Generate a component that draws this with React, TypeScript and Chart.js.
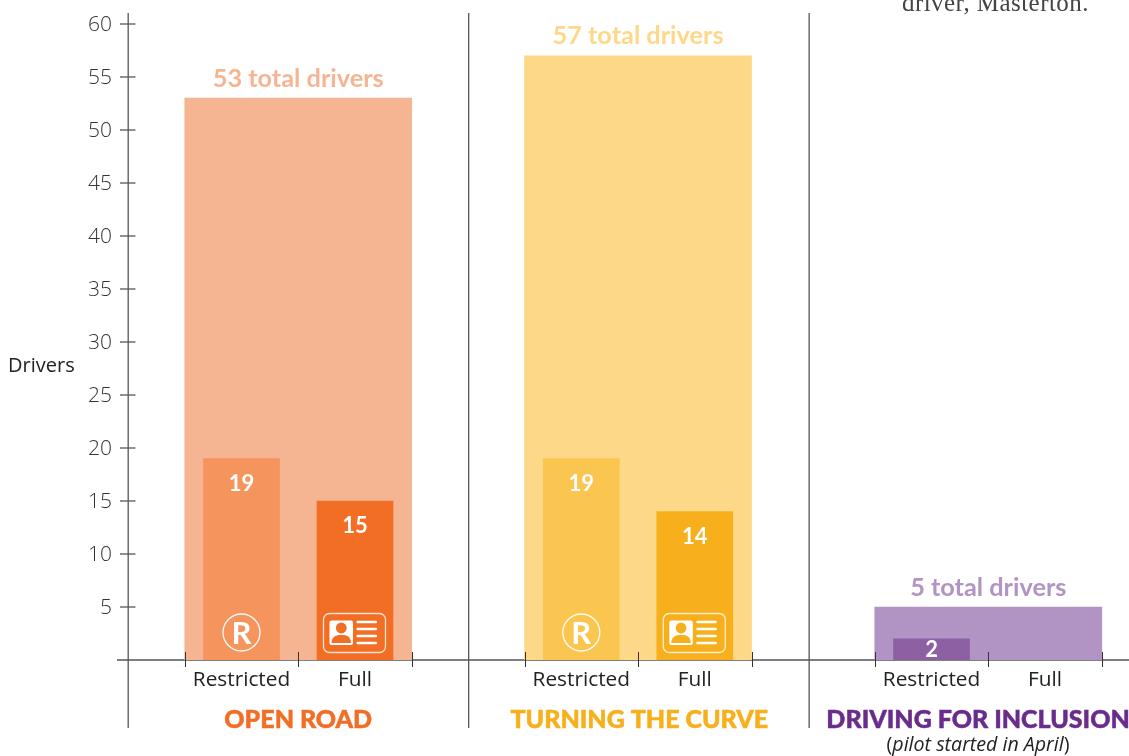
import React, { useEffect, useRef } from "react";
import { Chart, registerables } from "chart.js";

Chart.register(...registerables);

const programs = ["OPEN ROAD", "TURNING THE CURVE", "DRIVING FOR INCLUSION"];
const licenceTypes = ["Restricted", "Full"];
const totalDrivers = [53, 57, 5];
const restrictedDrivers = [19, 19, 2];
const fullDrivers: (number | null)[] = [15, 14, null];
const yTickStep = 5;
const yMax = 60;
const axisTitle = "Drivers";
const clippedCaption = "driver, Masterton.";
const pilotNote = ["(", "pilot started in April", ")"];

// layout: x axis is measured in "licence slots"
const groupStarts = [0.5, 3.494, 6.58];
const groupDividers = [0, 3, 6];
const xMax = 8.82;
const groupLabelCentres = [1.5, 4.505, 7.49];

const totalColors = ["#F6B592", "#FDD888", "#B194C3"];
const restrictedColors = ["#F5945D", "#FBC650", "#8D5FA3"];
const fullColors = ["#F26E25", "#F7B01B", "#B194C3"];
const programColors = ["#F26E25", "#F7B01B", "#6A2C8C"];

const FONT = "Lato";
const BODY = '"Open Sans"';
const LINE = "#555555";
const DARK = "#333333";

function roundRect(ctx: CanvasRenderingContext2D, x: number, y: number, w: number, h: number, r: number) {
  ctx.beginPath();
  ctx.roundRect(x, y, w, h, r);
}

function drawRBadge(ctx: CanvasRenderingContext2D, cx: number, cy: number) {
  ctx.strokeStyle = "rgba(255,255,255,0.95)";
  ctx.lineWidth = 1.3;
  ctx.beginPath();
  ctx.arc(cx, cy, 18.5, 0, Math.PI * 2);
  ctx.stroke();
  ctx.fillStyle = "#ffffff";
  ctx.font = `700 31px ${FONT}`;
  ctx.textAlign = "center";
  ctx.textBaseline = "middle";
  ctx.fillText("R", cx, cy + 1);
}

function drawCard(ctx: CanvasRenderingContext2D, cx: number, cy: number, bar: string) {
  ctx.strokeStyle = "rgba(255,255,255,0.8)";
  ctx.lineWidth = 1.3;
  roundRect(ctx, cx - 31, cy - 19.5, 62, 39, 6);
  ctx.stroke();
  ctx.fillStyle = "#ffffff";
  roundRect(ctx, cx - 25, cy - 12.5, 23.5, 24.5, 2);
  ctx.fill();
  ctx.fillStyle = bar;
  ctx.beginPath();
  ctx.arc(cx - 13.2, cy - 5, 5.4, 0, Math.PI * 2);
  ctx.fill();
  ctx.beginPath();
  ctx.moveTo(cx - 23, cy + 10);
  ctx.quadraticCurveTo(cx - 23, cy + 3, cx - 16, cy + 2);
  ctx.lineTo(cx - 10, cy + 2);
  ctx.quadraticCurveTo(cx - 3.5, cy + 3, cx - 3.5, cy + 10);
  ctx.closePath();
  ctx.fill();
  ctx.fillStyle = "#ffffff";
  for (const dy of [-11, -4, 3, 10]) {
    roundRect(ctx, cx + 2, cy + dy - 1.2, 20.5, 2.5, 1);
    ctx.fill();
  }
}

const decorationsBelow = {
  id: "decorationsBelow",
  beforeDatasetsDraw(chart: any) {
    const { ctx, scales } = chart;
    const y0 = scales.y.getPixelForValue(0);
    ctx.save();
    ctx.strokeStyle = LINE;
    ctx.lineWidth = 1.4;
    ctx.beginPath();
    ctx.moveTo(scales.x.left - 11, y0);
    ctx.lineTo(scales.x.right, y0);
    ctx.stroke();
    ctx.restore();
  },
};

const decorations = {
  id: "decorations",
  afterDatasetsDraw(chart: any) {
    const { ctx, scales } = chart;
    const { x, y } = scales;
    const y0 = y.getPixelForValue(0);
    const metaTotal = chart.getDatasetMeta(2);
    const metaR = chart.getDatasetMeta(0);
    const metaF = chart.getDatasetMeta(1);
    ctx.save();

    // group dividers and y axis line
    ctx.strokeStyle = LINE;
    ctx.lineWidth = 1.3;
    groupDividers.forEach((d) => {
      const px = x.getPixelForValue(d) + 0.2;
      ctx.beginPath();
      ctx.moveTo(px, 13);
      ctx.lineTo(px, 728);
      ctx.stroke();
    });

    // y tick marks cross the axis
    y.ticks.forEach((t: any) => {
      if (t.value === 0) return;
      const py = y.getPixelForValue(t.value);
      ctx.beginPath();
      ctx.moveTo(x.left - 8, py);
      ctx.lineTo(x.left + 7.5, py);
      ctx.stroke();
    });

    // x tick marks
    ctx.strokeStyle = DARK;
    ctx.lineWidth = 1;
    groupStarts.forEach((s) => {
      [0, 1, 2].forEach((k) => {
        const px = Math.round(x.getPixelForValue(s + k)) + 0.5;
        ctx.beginPath();
        ctx.moveTo(px, y0 - 8);
        ctx.lineTo(px, y0 + 7);
        ctx.stroke();
      });
    });

    // axis title
    ctx.fillStyle = "#222222";
    ctx.font = `400 20px ${BODY}`;
    ctx.textAlign = "left";
    ctx.textBaseline = "middle";
    ctx.fillText(axisTitle, 8, y.getPixelForValue(27.7));

    // total labels
    ctx.font = `700 25.3px ${FONT}`;
    ctx.textAlign = "center";
    ctx.textBaseline = "middle";
    metaTotal.data.forEach((bar: any, i: number) => {
      ctx.fillStyle = totalColors[i];
      ctx.fillText(`${totalDrivers[i]} total drivers`, bar.x, bar.y - 19.5);
    });

    // value labels
    ctx.font = `700 22px ${FONT}`;
    ctx.fillStyle = "#ffffff";
    const valueLabel = (bar: any, v: number | null) => {
      if (v == null) return;
      const h = y0 - bar.y;
      ctx.fillText(String(v), bar.x, bar.y + Math.min(25, h / 2 + 1));
    };
    metaR.data.forEach((b: any, i: number) => valueLabel(b, restrictedDrivers[i]));
    metaF.data.forEach((b: any, i: number) => valueLabel(b, fullDrivers[i]));

    // icons for the groups with tall bars
    metaR.data.forEach((b: any, i: number) => {
      if (restrictedDrivers[i] > 5) drawRBadge(ctx, b.x, y0 - 27.5);
    });
    metaF.data.forEach((b: any, i: number) => {
      const v = fullDrivers[i];
      if (v != null && v > 5) drawCard(ctx, b.x - 0.5, y0 - 27, fullColors[i]);
    });

    // program names
    ctx.font = `900 25px ${FONT}`;
    ctx.textAlign = "center";
    ctx.textBaseline = "middle";
    ctx.lineWidth = 0.5;
    programs.forEach((p, i) => {
      ctx.fillStyle = programColors[i];
      ctx.strokeStyle = programColors[i];
      const px = x.getPixelForValue(groupLabelCentres[i]);
      ctx.fillText(p, px, 720);
      ctx.strokeText(p, px, 720);
    });

    // pilot note
    const noteFonts = [`400 19.6px ${BODY}`, `italic 400 19.6px ${BODY}`, `400 19.6px ${BODY}`];
    let w = 0;
    pilotNote.forEach((s, i) => {
      ctx.font = noteFonts[i];
      w += ctx.measureText(s).width;
    });
    let nx = x.getPixelForValue(groupLabelCentres[2]) - w / 2;
    ctx.fillStyle = "#222222";
    ctx.textAlign = "left";
    pilotNote.forEach((s, i) => {
      ctx.font = noteFonts[i];
      ctx.fillText(s, nx, 745);
      nx += ctx.measureText(s).width;
    });

    // clipped caption from the surrounding page
    ctx.fillStyle = "#444444";
    ctx.font = `400 25px "Liberation Serif"`;
    (ctx as any).letterSpacing = "0.45px";
    ctx.textAlign = "left";
    ctx.textBaseline = "alphabetic";
    ctx.fillText(clippedCaption, 902, 11);
    (ctx as any).letterSpacing = "0px";

    ctx.restore();
  },
};

export default function App() {
  const ref = useRef<HTMLCanvasElement | null>(null);

  useEffect(() => {
    document.body.style.margin = "0";
    if (!ref.current) return;
    const slotCentres: number[] = [];
    groupStarts.forEach((s) => slotCentres.push(s + 0.5, s + 1.5));
    const chart = new Chart(ref.current, {
      type: "bar",
      data: {
        datasets: [
          {
            label: licenceTypes[0],
            data: restrictedDrivers.map((v, i) => ({ x: groupStarts[i] + 0.5, y: v })),
            backgroundColor: restrictedColors,
            barThickness: 76,
            order: 1,
            grouped: false,
          },
          {
            label: licenceTypes[1],
            data: fullDrivers.map((v, i) => ({ x: groupStarts[i] + 1.5, y: v })),
            backgroundColor: fullColors,
            barThickness: 76,
            order: 1,
            grouped: false,
          },
          {
            label: "Total",
            data: totalDrivers.map((v, i) => ({ x: groupStarts[i] + 1, y: v })),
            backgroundColor: totalColors,
            barThickness: 227,
            order: 2,
            grouped: false,
          },
        ] as any,
      },
      options: {
        responsive: false,
        animation: false,
        events: [],
        layout: { padding: { top: 24, left: 0, right: 0, bottom: 0 }, autoPadding: false },
        plugins: { legend: { display: false }, tooltip: { enabled: false }, title: { display: false } },
        scales: {
          x: {
            type: "linear",
            offset: false,
            min: 0,
            max: xMax,
            grid: { display: false, drawTicks: false, offset: false },
            border: { display: false },
            afterFit: (s: any) => {
              s.height = 96;
              s.paddingLeft = 0;
              s.paddingRight = 0;
            },
            afterBuildTicks: (s: any) => {
              s.ticks = slotCentres.map((value) => ({ value }));
            },
            ticks: {
              autoSkip: false,
              maxRotation: 0,
              padding: 8,
              color: "#222222",
              font: { family: "Open Sans", size: 20.8, weight: 400 },
              callback: (_v: any, i: number) => licenceTypes[i % 2],
            },
          },
          y: {
            type: "linear",
            min: 0,
            max: yMax,
            grid: { display: false, drawTicks: false },
            border: { display: false },
            afterFit: (s: any) => {
              s.width = 128;
              s.paddingTop = 0;
              s.paddingBottom = 0;
            },
            ticks: {
              stepSize: yTickStep,
              padding: 16,
              labelOffset: 1.5,
              color: "#333333",
              font: { family: "Open Sans", size: 21, weight: 300 },
              callback: (v: any) => (v === 0 ? "" : String(v)),
            },
          },
        },
      },
      plugins: [decorationsBelow, decorations],
    } as any);
    return () => chart.destroy();
  }, []);

  return (
    <div style={{ position: "absolute", left: 0, top: 0, width: 1129, height: 756, background: "#fff" }}>
      <canvas ref={ref} width={1129} height={756} style={{ display: "block" }} />
    </div>
  );
}
